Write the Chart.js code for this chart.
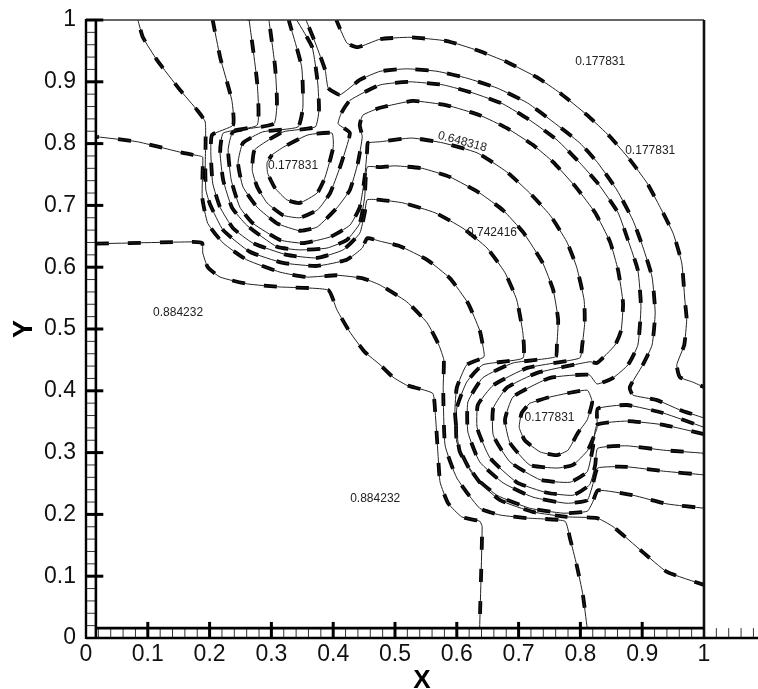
<!DOCTYPE html>
<html><head><meta charset="utf-8">
<style>html,body{margin:0;padding:0;background:#fff}canvas{display:block}</style>
<script src="https://cdn.jsdelivr.net/npm/chart.js@4"></script>
</head><body><canvas id="c" width="758" height="689"></canvas>
<script>
const tickValues=[0,.1,.2,.3,.4,.5,.6,.7,.8,.9,1];
const tickLabels=['0','0.1','0.2','0.3','0.4','0.5','0.6','0.7','0.8','0.9','1'];
const contourA=[[.016,.638],[.172,.641],[.188,.639],[.189,.623],[.197,.600],[.217,.584],[.261,.573],[.314,.568],[.392,.563],[.406,.531],[.427,.495],[.451,.463],[.476,.442],[.497,.422],[.519,.409],[.561,.396],[.565,.366],[.570,.291],[.573,.252],[.586,.218],[.608,.196],[.637,.189],[.641,.180],[.637,.016]];
const contourB=[[.018,.811],[.083,.803],[.157,.785],[.184,.780],[.189,.778],[.188,.714],[.197,.671],[.222,.639],[.260,.612],[.314,.592],[.358,.584],[.406,.587],[.448,.582],[.476,.571],[.519,.544],[.552,.510],[.571,.474],[.579,.450],[.578,.405],[.581,.312],[.600,.259],[.637,.210],[.670,.199],[.714,.194],[.775,.189],[.783,.162],[.794,.118],[.804,.070],[.811,.016]];
const contourC=[[.084,1],[.092,.972],[.115,.935],[.152,.887],[.180,.854],[.193,.835],[.193,.765],[.194,.725],[.201,.701],[.222,.660],[.265,.625],[.319,.607],[.374,.602],[.422,.612],[.447,.631],[.455,.647],[.476,.642],[.508,.634],[.552,.612],[.589,.582],[.618,.542],[.637,.498],[.642,.474],[.644,.455],[.616,.442],[.600,.405],[.597,.366],[.605,.301],[.637,.252],[.670,.223],[.723,.204],[.778,.196],[.827,.194],[.853,.180],[.901,.139],[.940,.107],[1,.086]];
const contourD=[[.205,1],[.217,.940],[.236,.870],[.238,.830],[.204,.814],[.202,.785],[.205,.736],[.217,.697],[.238,.663],[.270,.639],[.325,.620],[.374,.615],[.416,.628],[.443,.655],[.451,.688],[.455,.709],[.476,.709],[.513,.704],[.565,.688],[.610,.663],[.649,.631],[.678,.591],[.697,.547],[.707,.493],[.707,.453],[.642,.442],[.616,.414],[.600,.372],[.600,.317],[.626,.264],[.665,.231],[.718,.210],[.772,.202],[.811,.205],[.820,.220],[.828,.239],[.885,.231],[.940,.217],[1,.210]];
const contourE=[[.264,1],[.277,.898],[.277,.830],[.222,.817],[.217,.785],[.222,.741],[.236,.697],[.260,.668],[.309,.633],[.346,.628],[.390,.631],[.422,.644],[.443,.671],[.451,.714],[.455,.762],[.476,.762],[.500,.764],[.544,.760],[.589,.746],[.637,.720],[.675,.692],[.707,.657],[.739,.607],[.756,.563],[.764,.515],[.762,.474],[.760,.455],[.691,.445],[.642,.421],[.618,.382],[.618,.333],[.637,.285],[.675,.251],[.723,.228],[.778,.218],[.811,.223],[.820,.248],[.828,.275],[.875,.277],[.934,.270],[1,.264]];
const contourF=[[.296,1],[.306,.924],[.309,.866],[.304,.832],[.238,.819],[.230,.790],[.235,.741],[.249,.697],[.270,.671],[.314,.644],[.351,.639],[.395,.649],[.427,.668],[.443,.697],[.451,.746],[.455,.790],[.456,.801],[.476,.803],[.527,.809],[.578,.801],[.633,.785],[.681,.754],[.718,.720],[.751,.684],[.778,.641],[.794,.600],[.806,.547],[.807,.510],[.803,.474],[.799,.453],[.714,.437],[.659,.409],[.634,.377],[.633,.340],[.654,.291],[.697,.252],[.746,.235],[.788,.231],[.815,.248],[.824,.280],[.828,.307],[.875,.311],[.934,.304],[1,.299]];
const contourG=[[.328,1],[.349,.924],[.351,.859],[.343,.827],[.286,.819],[.254,.801],[.246,.769],[.254,.730],[.277,.697],[.309,.671],[.346,.659],[.374,.665],[.406,.696],[.427,.725],[.440,.769],[.447,.811],[.443,.830],[.448,.846],[.476,.858],[.529,.869],[.584,.862],[.637,.846],[.681,.825],[.723,.798],[.756,.770],[.794,.728],[.824,.688],[.848,.641],[.861,.595],[.869,.542],[.866,.498],[.856,.474],[.827,.445],[.815,.447],[.730,.429],[.681,.405],[.659,.372],[.659,.328],[.686,.285],[.735,.256],[.783,.252],[.811,.269],[.820,.307],[.827,.345],[.875,.351],[.934,.345],[1,.330]];
const contourH=[[.341,1],[.366,.956],[.375,.898],[.377,.854],[.371,.827],[.319,.819],[.273,.790],[.269,.757],[.277,.730],[.293,.704],[.319,.684],[.346,.680],[.375,.693],[.395,.720],[.411,.762],[.427,.817],[.408,.832],[.413,.849],[.427,.870],[.476,.895],[.524,.900],[.578,.895],[.626,.882],[.675,.864],[.718,.838],[.762,.806],[.799,.769],[.828,.736],[.861,.688],[.877,.644],[.893,.595],[.898,.536],[.893,.474],[.877,.442],[.853,.421],[.827,.411],[.814,.426],[.751,.421],[.691,.390],[.678,.353],[.686,.316],[.718,.280],[.762,.275],[.788,.280],[.812,.304],[.827,.340],[.828,.371],[.875,.377],[.934,.364],[1,.341]];
const contourI=[[.356,1],[.371,.963],[.387,.919],[.392,.890],[.411,.879],[.443,.903],[.476,.917],[.519,.921],[.568,.917],[.616,.906],[.665,.890],[.714,.866],[.756,.835],[.799,.801],[.828,.769],[.859,.725],[.885,.676],[.901,.633],[.916,.584],[.921,.526],[.916,.474],[.901,.442],[.880,.406],[.885,.393],[.924,.385],[.961,.369],[1,.356]];
const contourJ=[[.405,1],[.422,.963],[.440,.956],[.476,.969],[.524,.972],[.584,.966],[.633,.951],[.681,.932],[.730,.907],[.767,.882],[.811,.846],[.848,.811],[.880,.774],[.908,.736],[.929,.697],[.950,.655],[.964,.607],[.969,.547],[.972,.515],[.968,.474],[.956,.442],[.961,.422],[.982,.414],[1,.406]];
const loopUpper=[[.301,.782],[.319,.794],[.359,.814],[.398,.817],[.400,.794],[.387,.746],[.374,.720],[.346,.704],[.325,.709],[.306,.728],[.294,.752],[.293,.769],[.301,.782]];
const loopLower=[[.718,.380],[.751,.390],[.811,.401],[.819,.382],[.811,.353],[.796,.332],[.780,.304],[.762,.296],[.735,.301],[.710,.320],[.701,.341],[.705,.364],[.718,.380]];
const contours=[contourA,contourB,contourC,contourD,contourE,contourF,contourG,contourH,contourI,contourJ,loopUpper,loopLower];
const labelTexts=['0.177831','0.177831','0.177831','0.648318','0.742416','0.884232','0.884232','0.177831'];
const labelX=[.335,.832,.913,.609,.657,.149,.468,.750];
const labelY=[.764,.932,.788,.803,.656,.527,.225,.356];
const labelAngle=[0,0,0,15,0,0,0,0];
const XMAX=1.0874;
const toPts=a=>a.map(p=>({x:p[0],y:p[1]}));
const datasets=[];
contours.forEach((c,i)=>{
  datasets.push({data:toPts(c),borderColor:'#222',borderWidth:1,pointRadius:0,tension:.15,showLine:true,fill:false});
  datasets.push({data:toPts(c),borderColor:'#000',borderWidth:3.8,borderDash:[13,19],borderDashOffset:(i*11)%32,borderCapStyle:'butt',pointRadius:0,tension:.15,showLine:true,fill:false});
});
const frame={id:'frame',afterDatasetsDraw(ch){
  const g=ch.ctx,x=ch.scales.x,y=ch.scales.y;
  const X=v=>x.getPixelForValue(v),Y=v=>y.getPixelForValue(v);
  const line=(a,b,c,d,w,col)=>{g.strokeStyle=col;g.lineWidth=w;g.beginPath();g.moveTo(a,b);g.lineTo(c,d);g.stroke();};
  g.save();g.lineCap='butt';
  for(let k=0;k<=54;k++){const v=k*.02;line(X(v),Y(0),X(v),Y(.016),1,'#333');}
  for(let k=0;k<=50;k++){const v=k*.02;line(X(0),Y(v),X(.016),Y(v),1,'#333');}
  line(X(0),Y(1),X(1),Y(1),1.5,'#333');
  line(X(1),Y(1),X(1),Y(0),2.6,'#111');
  line(X(0),Y(0)+1,X(0),Y(1)-1,2.4,'#000');
  line(X(.016),Y(0),X(.016),Y(1),2.6,'#000');
  line(X(0),Y(0),ch.width,Y(0),2.4,'#000');
  line(X(.016),Y(.016),X(1),Y(.016),2.6,'#000');
  tickValues.forEach(v=>{
    if(v>0&&v<1)line(X(v),Y(0),X(v),Y(.026),3,'#000');
    if(v>0)line(X(0),Y(v),X(.028),Y(v),3,'#000');
  });
  g.fillStyle='#222';g.font='12px "Liberation Sans"';g.textAlign='center';g.textBaseline='middle';
  labelTexts.forEach((t,i)=>{g.save();g.translate(X(labelX[i]),Y(labelY[i]));g.rotate(labelAngle[i]*Math.PI/180);g.fillText(t,0,0);g.restore();});
  g.restore();
}};
const fixedTicks=s=>{s.ticks=tickValues.map(v=>({value:v}));};
new Chart(document.getElementById('c'),{type:'scatter',data:{datasets},plugins:[frame],options:{
  responsive:false,animation:false,
  layout:{padding:{top:20,right:0,left:0,bottom:0}},
  plugins:{legend:{display:false},tooltip:{enabled:false}},
  scales:{
    x:{type:'linear',min:0,max:XMAX,afterBuildTicks:fixedTicks,afterFit(s){s.height=51;s.paddingLeft=0;s.paddingRight=0;},
      grid:{display:false,drawTicks:false},border:{display:false},
      ticks:{callback:(v,i)=>tickLabels[i],autoSkip:false,maxRotation:0,padding:3,color:'#111',font:{family:'"Liberation Sans"',size:23}},
      title:{display:true,text:'X',color:'#000',font:{family:'"Liberation Sans"',size:26,weight:'bold',lineHeight:.65},padding:{top:0,bottom:0}}},
    y:{type:'linear',min:0,max:1,afterBuildTicks:fixedTicks,afterFit(s){s.width=86;s.paddingTop=0;s.paddingBottom=0;},
      grid:{display:false,drawTicks:false},border:{display:false},
      ticks:{callback:(v,i)=>tickLabels[i],autoSkip:false,padding:10,color:'#111',font:{family:'"Liberation Sans"',size:23}},
      title:{display:true,text:'Y',color:'#000',font:{family:'"Liberation Sans"',size:27,weight:'bold',lineHeight:.8},padding:{top:14,bottom:0}}}
  }}});
</script></body></html>
